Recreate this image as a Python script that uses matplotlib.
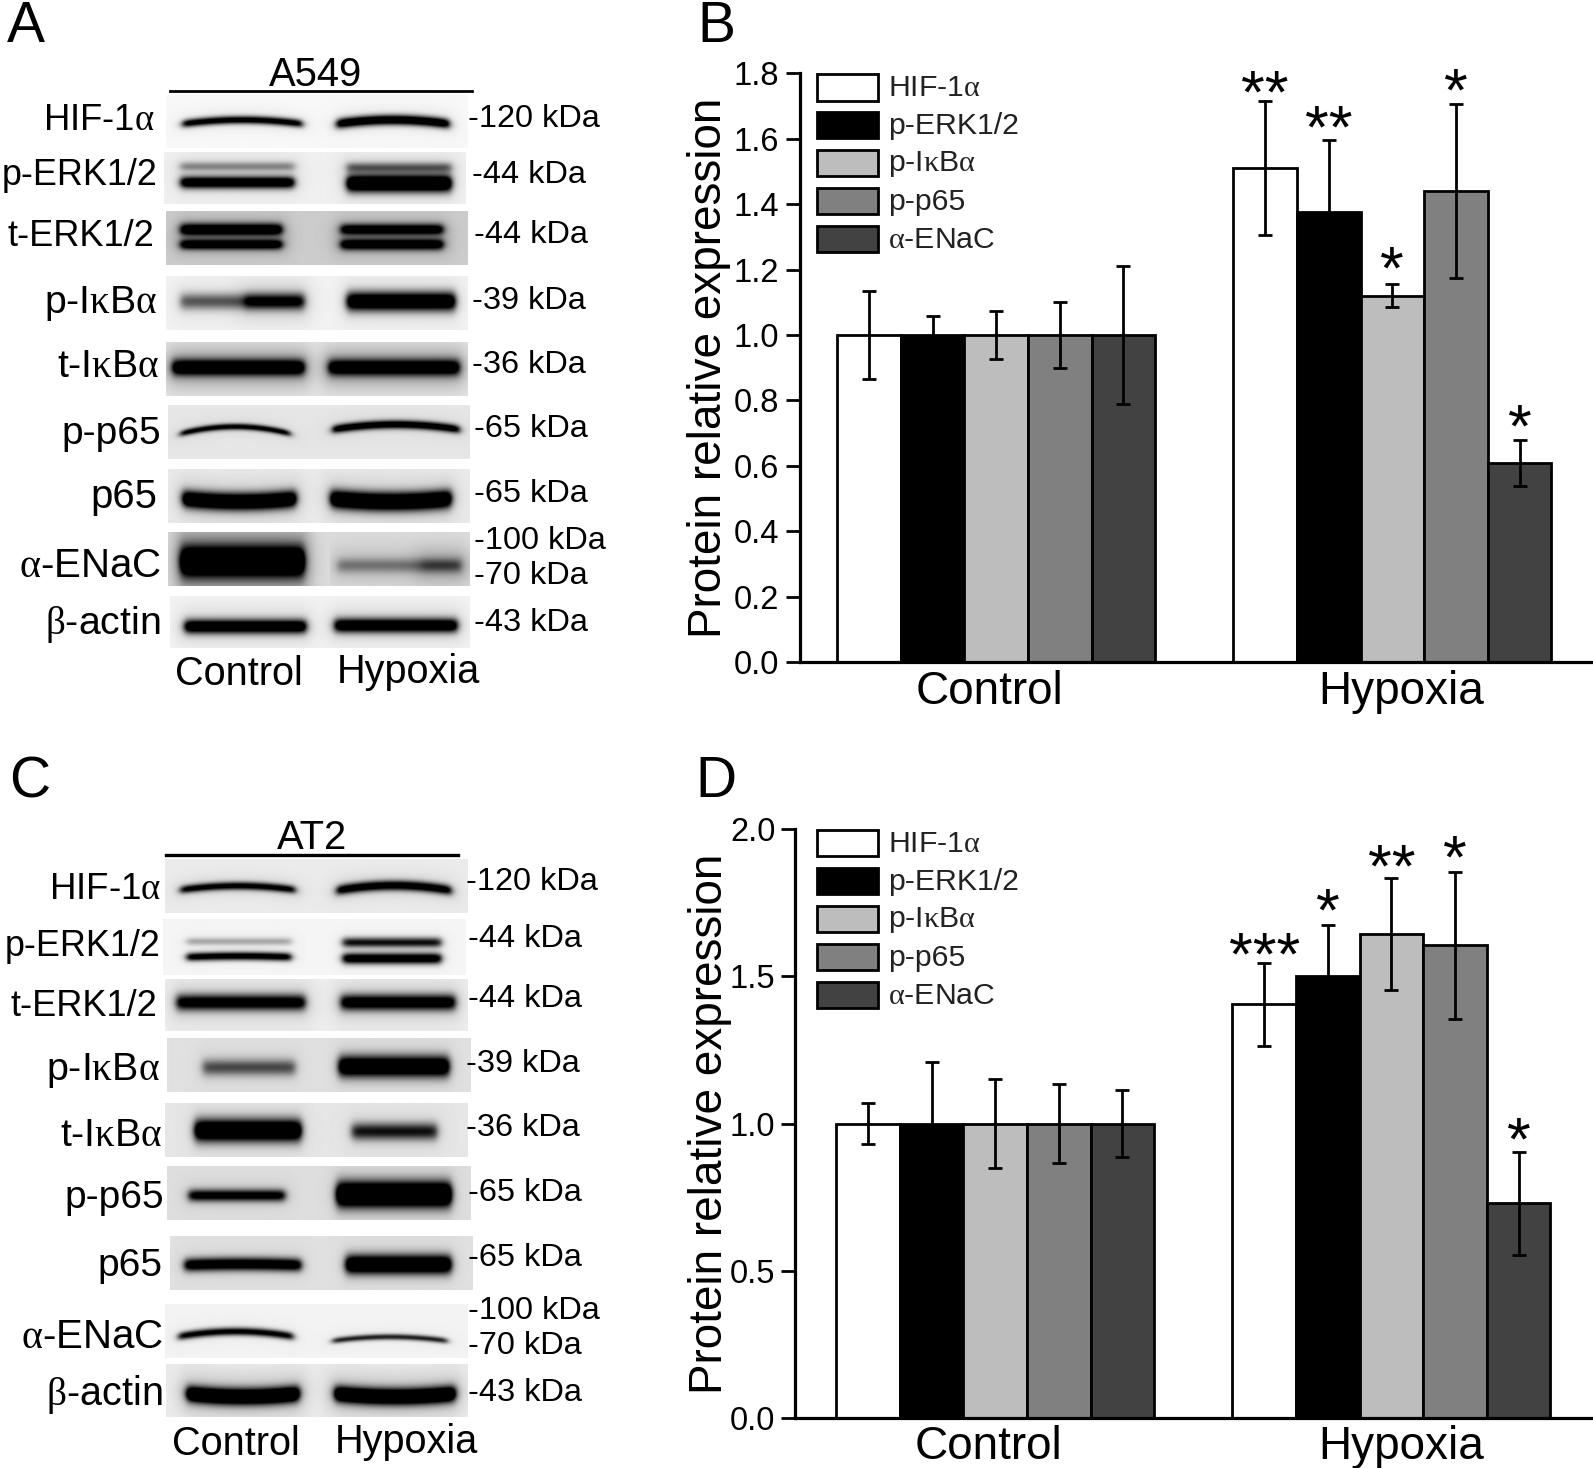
import numpy as np
import matplotlib
matplotlib.use("Agg")
import matplotlib.pyplot as plt
from matplotlib.patches import Rectangle

plt.rcParams['font.family'] = ['Liberation Sans', 'DejaVu Sans']
plt.rcParams['mathtext.fontset'] = 'custom'
plt.rcParams['mathtext.rm'] = 'Liberation Serif'
plt.rcParams['mathtext.it'] = 'Liberation Serif:italic'
plt.rcParams['mathtext.bf'] = 'Liberation Serif:bold'

A_ = r'$\mathrm{\alpha}$'
K_ = r'$\mathrm{\kappa}$'
B_ = r'$\mathrm{\beta}$'

groups = ['Control', 'Hypoxia']
series = ['HIF-1' + A_, 'p-ERK1/2', 'p-I' + K_ + 'B' + A_, 'p-p65', A_ + '-ENaC']
colors = ['#ffffff', '#000000', '#bdbdbd', '#808080', '#424242']

b_control = [1.0, 1.0, 1.0, 1.0, 1.0]
b_control_err = [0.135, 0.057, 0.072, 0.10, 0.21]
b_hypoxia = [1.51, 1.375, 1.12, 1.44, 0.61]
b_hypoxia_err = [0.205, 0.22, 0.035, 0.265, 0.07]
b_stars = ['**', '**', '*', '*', '*']
b_ticks = [0.0, 0.2, 0.4, 0.6, 0.8, 1.0, 1.2, 1.4, 1.6, 1.8]

d_control = [1.0, 1.0, 1.0, 1.0, 1.0]
d_control_err = [0.07, 0.21, 0.15, 0.135, 0.115]
d_hypoxia = [1.405, 1.50, 1.645, 1.605, 0.73]
d_hypoxia_err = [0.14, 0.175, 0.19, 0.25, 0.175]
d_stars = ['***', '*', '**', '*', '*']
d_ticks = [0.0, 0.5, 1.0, 1.5, 2.0]

blot_labels = ['HIF-1' + A_, 'p-ERK1/2', 't-ERK1/2', 'p-I' + K_ + 'B' + A_, 't-I' + K_ + 'B' + A_,
               'p-p65', 'p65', A_ + '-ENaC', B_ + '-actin']
a_kda = ['-120 kDa', '-44 kDa', '-44 kDa', '-39 kDa', '-36 kDa', '-65 kDa', '-65 kDa', '-100 kDa', '-70 kDa', '-43 kDa']
c_kda = a_kda

W, H = 1593, 1468
fig = plt.figure(figsize=(W / 100, H / 100), dpi=100)
ov = fig.add_axes([0, 0, 1, 1])
ov.set_xlim(0, 1568); ov.set_ylim(1445, 0); ov.axis('off')


def blot(x0, x1, y0, y1, bg, bands, smear=0.0):
    """bands: (xa, xb, yc, sigma, strength, bow) in reference pixels"""
    xs = np.arange(x0, x1 + 1)
    ys = np.arange(y0, y1 + 1)
    X, Y = np.meshgrid(xs, ys)
    dark = np.zeros_like(X, dtype=float)
    for xa, xb, yc, sig, st, bow in bands:
        edge = 0.5 * (np.tanh((X - xa) / 4.0) - np.tanh((X - xb) / 4.0))
        t = (X - (xa + xb) / 2) / ((xb - xa) / 2)
        yy = yc + bow * (t ** 2 - 0.4)
        dark += st * edge * np.exp(-((Y - yy) / sig) ** 2)
        if smear:
            wide = 0.5 * (np.tanh((X - xa + 6) / 9.0) - np.tanh((X - xb - 6) / 9.0))
            dark += smear * wide * np.exp(-((Y - yy) / (sig * 2.6)) ** 2)
    img = np.clip(bg - dark, 0, 1)
    ov.imshow(img, extent=(x0, x1, y1, y0), cmap='gray', vmin=0, vmax=1,
              aspect='auto', interpolation='bilinear', zorder=1)


# --- Panel A blots
blot(163, 460, 94, 146, 0.97, [(179, 297, 120, 4.0, 1.05, 4), (331, 442, 120, 5.0, 1.25, 4)], smear=0.06)
blot(161, 458, 150, 201, 0.94, [(177, 289, 164, 4.5, 0.35, 0), (177, 289, 180, 6.0, 1.2, 0),
                                (341, 444, 165, 5.0, 0.5, 0), (341, 444, 181, 8.5, 1.45, 0)], smear=0.06)
blot(163, 460, 208, 261, 0.80, [(177, 277, 226, 6, 1.0, 0), (177, 277, 241, 5, 0.95, 0),
                                (335, 436, 226, 5.5, 0.9, 0), (335, 436, 241, 5.5, 0.95, 0)], smear=0.12)
blot(163, 460, 272, 325, 0.95, [(177, 299, 297, 8, 0.55, 0), (240, 299, 297, 8.5, 0.4, 0), (341, 448, 297, 9.5, 1.3, 0)], smear=0.07)
blot(163, 460, 337, 390, 0.90, [(169, 299, 362, 8, 1.05, 0), (323, 452, 362, 8, 1.0, 0)], smear=0.28)
blot(165, 462, 399, 452, 0.90, [(177, 285, 423, 3.2, 0.95, 7), (327, 452, 420, 4.2, 1.1, 5)], smear=0.05)
blot(165, 462, 462, 515, 0.92, [(179, 291, 493, 8.5, 1.35, -3), (325, 444, 493, 9, 1.4, -3)], smear=0.12)
blot(165, 462, 524, 577, 0.86, [(177, 299, 553, 15, 1.3, 0)], smear=0.3)
blot(325, 462, 524, 577, 0.86, [(332, 454, 557, 7, 0.3, 0), (415, 454, 557, 7, 0.12, 0)], smear=0.12)
blot(167, 462, 587, 638, 0.95, [(181, 301, 617, 7, 1.2, 0), (329, 450, 616, 7, 1.2, 0)], smear=0.12)

# --- Panel C blots
blot(162, 460, 846, 899, 0.92, [(177, 290, 874, 4.0, 0.95, 4), (331, 444, 874, 5.0, 1.05, 5)], smear=0.08)
blot(160, 458, 905, 960, 0.96, [(183, 286, 927, 3.8, 0.28, 0), (183, 286, 942, 4.2, 1.1, 1),
                                (337, 434, 928, 5.0, 0.9, 0), (337, 434, 944, 5.5, 1.2, 0)], smear=0.02)
blot(162, 460, 964, 1015, 0.93, [(173, 300, 987, 8, 1.0, 0), (335, 448, 987, 8, 1.05, 0)], smear=0.12)
blot(164, 463, 1022, 1075, 0.88, [(199, 290, 1051, 8, 0.55, 0), (333, 442, 1050, 10.5, 1.3, 0)], smear=0.05)
blot(162, 460, 1086, 1139, 0.90, [(191, 296, 1113, 11, 1.4, 0), (346, 430, 1114, 8.5, 0.8, 0)], smear=0.05)
blot(164, 463, 1148, 1201, 0.87, [(185, 280, 1177, 6, 0.95, 0), (331, 444, 1176, 12.5, 1.6, 0)], smear=0.06)
blot(167, 465, 1217, 1270, 0.88, [(181, 296, 1245, 6.5, 1.1, 1), (340, 444, 1245, 9.5, 1.35, 0)], smear=0.05)
blot(162, 460, 1284, 1337, 0.95, [(175, 288, 1313, 4.0, 1.0, 5), (327, 440, 1318, 3.0, 0.8, 4)], smear=0.03)
blot(163, 460, 1343, 1395, 0.92, [(183, 294, 1374, 8, 1.4, -3), (329, 448, 1374, 8, 1.4, -3)], smear=0.18)

# --- Panel text
KD = 23.4
a_label_pos = [(152, 119), (155, 173), (152, 233), (155, 299), (157, 361), (159, 427), (155, 489), (159, 557), (158, 615)]
a_label_size = [26.3, 25.8, 26.0, 28.3, 28.3, 28.1, 28.9, 29.0, 28.3]
c_label_pos = [(159, 876), (158, 932), (155, 991), (157, 1054), (160, 1118), (162, 1179), (160, 1246), (161, 1316), (160, 1373)]
c_label_size = [26.5, 25.8, 26.0, 28.4, 28.3, 28.0, 28.0, 29.0, 28.5]
for lab, (x, y), fs in zip(blot_labels, a_label_pos, a_label_size):
    ov.text(x, y, lab, ha='right', va='center', fontsize=fs, zorder=3)
for lab, (x, y), fs in zip(blot_labels, c_label_pos, c_label_size):
    ov.text(x, y, lab, ha='right', va='center', fontsize=fs, zorder=3)
a_kda_pos = [(461, 117), (465, 172), (467, 231), (465, 296), (465, 359), (467, 422), (467, 486), (467, 533), (467, 567), (467, 613)]
c_kda_pos = [(459, 868), (461, 924), (461, 983), (459, 1047), (459, 1110), (461, 1174), (461, 1238), (461, 1290), (461, 1325), (461, 1371)]
for lab, (x, y) in zip(a_kda, a_kda_pos):
    ov.text(x, y, lab, ha='left', va='center', fontsize=KD, zorder=3)
for lab, (x, y) in zip(c_kda, c_kda_pos):
    ov.text(x, y, lab, ha='left', va='center', fontsize=KD, zorder=3)

ov.text(235, 663, groups[0], ha='center', va='center', fontsize=28.6)
ov.text(402, 661, groups[1], ha='center', va='center', fontsize=28.6)
ov.text(232, 1421, groups[0], ha='center', va='center', fontsize=28.6)
ov.text(400, 1419, groups[1], ha='center', va='center', fontsize=28.6)
ov.text(311, 74, 'A549', ha='center', va='center', fontsize=28.8)
ov.text(307, 825, 'AT2', ha='center', va='center', fontsize=28.8)
ov.plot([167, 465], [90, 90], color='k', lw=2, zorder=3)
ov.plot([163, 451], [842, 842], color='k', lw=2.4, zorder=3)

for t, x, y in [('A', 25, 41), ('B', 705, 41), ('C', 29, 785), ('D', 705, 785)]:
    ov.text(x, y, t, ha='center', va='baseline', fontsize=41)

LW = 2.0


def bar_panel(px, ymax, ticks, ctrl, cerr, hyp, herr, stars, lift, label_x, pads):
    left, right, bottom, top, (c_start, h_start, bw), xt = px
    ax = fig.add_axes([left / 1568, 1 - bottom / 1445, (right - left) / 1568, (bottom - top) / 1445])
    ax.patch.set_alpha(0)
    ax.set_xlim(left, right)
    ax.set_ylim(0, ymax)
    for grp, (start, vals, errs) in enumerate([(c_start, ctrl, cerr), (h_start, hyp, herr)]):
        xs = start + bw * (np.arange(5) + 0.5)
        ax.bar(xs, vals, width=bw, color=colors, edgecolor='k', linewidth=LW, zorder=2)
        ax.errorbar(xs, vals, yerr=errs, fmt='none', ecolor='k', elinewidth=LW,
                    capsize=5, capthick=LW, zorder=3)
        if grp == 1:
            for x, v, e, s, d in zip(xs, vals, errs, stars, lift):
                ax.annotate(s, (x, v + e), xytext=(0, -10 + d * 0.72), textcoords='offset points',
                            ha='center', va='baseline', fontsize=44, zorder=4, annotation_clip=False)
    ax.set_xticks(xt)
    ax.set_xticklabels(groups, fontsize=33)
    ax.tick_params(axis='x', length=0, pad=pads[0])
    ax.set_yticks(ticks)
    ax.set_yticklabels(['%.1f' % t for t in ticks], fontsize=23.5)
    ax.tick_params(axis='y', length=10, width=LW, pad=pads[1])
    ax.set_ylabel('Protein relative expression', fontsize=33)
    ax.yaxis.set_label_coords(label_x, 0.5)
    for s in ['top', 'right']:
        ax.spines[s].set_visible(False)
    for s in ['left', 'bottom']:
        ax.spines[s].set_linewidth(LW + 0.3)
    return ax


bar_panel((787, 1568, 652, 72, (824, 1214, 62.6), [974, 1379]), 1.8, b_ticks, b_control, b_control_err,
          b_hypoxia, b_hypoxia_err, b_stars, [2, 7, 10, 8, 7], -0.0865, (5.7, 4.6))
bar_panel((783, 1568, 1396, 816, (823, 1213, 62.6), [973, 1379]), 2.0, d_ticks, d_control, d_control_err,
          d_hypoxia, d_hypoxia_err, d_stars, [2, 8, 5, 8, 6], -0.0795, (5.0, 4.5))

# --- Legends (drawn on overlay in reference pixels)
for ytop in (72, 816):
    for i, (lab, col) in enumerate(zip(series, colors)):
        y = ytop + 1 + i * 37.3
        ov.add_patch(Rectangle((804, y), 60, 26, facecolor=col, edgecolor='k', lw=2.0, zorder=5))
        ov.text(874, y + 14, lab, ha='left', va='center', fontsize=21.8, color='#222222', zorder=5)

fig.savefig('out.png', dpi=100)
